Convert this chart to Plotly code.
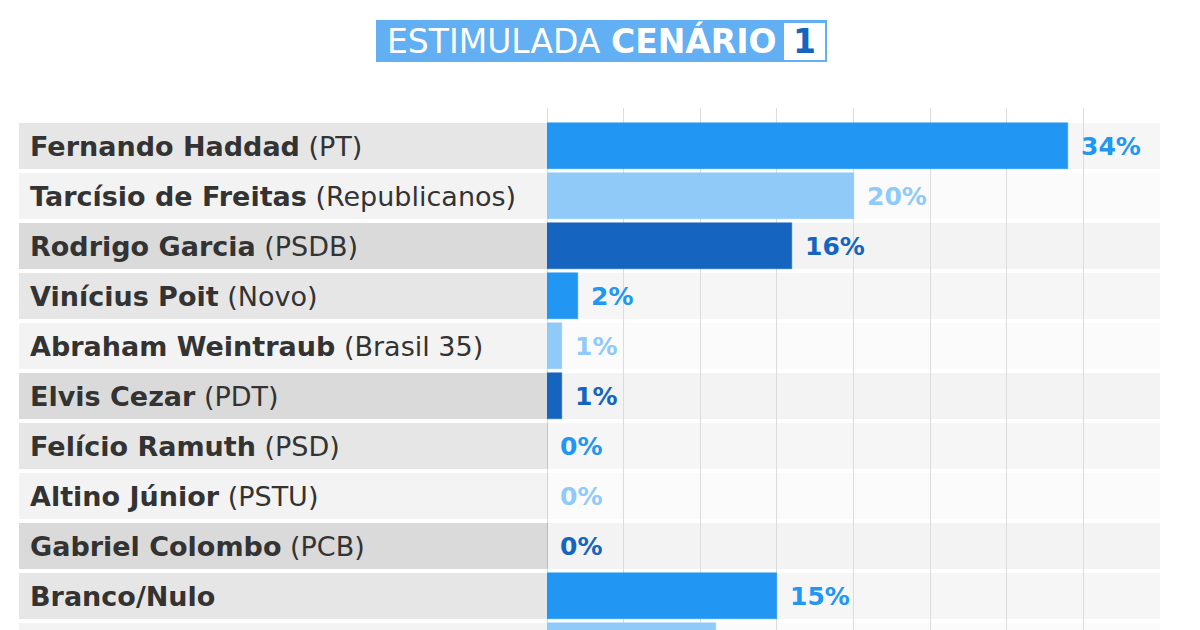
import plotly.graph_objects as go

# ---- data ----
candidates = ["Fernando Haddad", "Tarcísio de Freitas", "Rodrigo Garcia", "Vinícius Poit",
              "Abraham Weintraub", "Elvis Cezar", "Felício Ramuth", "Altino Júnior",
              "Gabriel Colombo", "Branco/Nulo", "Não sabe/Não respondeu"]
parties = ["PT", "Republicanos", "PSDB", "Novo", "Brasil 35", "PDT", "PSD", "PSTU", "PCB", "", ""]
values = [34, 20, 16, 2, 1, 1, 0, 0, 0, 15, 11]
title_light = "ESTIMULADA"
title_bold = "CENÁRIO"
scenario = "1"

# ---- style ----
W, H = 1200, 630
PL, PR, PT = 547, 1160, 108          # plot area pixels
bar_colors = ["#2196f3", "#90caf9", "#1565c0"]
label_bg = ["#e6e6e6", "#f3f3f3", "#dadada"]
band_bg = ["#f6f6f6", "#fbfbfb", "#f3f3f3"]
FONT = "DejaVu Sans"

def px_x(p):  # pixel -> paper x
    return (p - PL) / (PR - PL)

def px_y(p):  # pixel -> paper y
    return (H - p) / (H - PT)

n = len(values)
idx = list(range(n))
cols = [bar_colors[i % 3] for i in idx]

fig = go.Figure()
fig.add_trace(go.Bar(
    x=values, y=idx, orientation="h", width=0.92,
    marker=dict(color=cols, line=dict(color=cols, width=0.5)),
    hoverinfo="skip",
))

shapes = []
annotations = []
for i in idx:
    y0, y1 = i - 0.46, i + 0.46
    shapes.append(dict(type="rect", xref="paper", yref="y", x0=px_x(19), x1=0,
                       y0=y0, y1=y1, fillcolor=label_bg[i % 3], line=dict(width=0), layer="below"))
    shapes.append(dict(type="rect", xref="paper", yref="y", x0=0, x1=1,
                       y0=y0, y1=y1, fillcolor=band_bg[i % 3], line=dict(width=0), layer="below"))
    txt = f"<b>{candidates[i]}</b>" + (f" ({parties[i]})" if parties[i] else "")
    annotations.append(dict(xref="paper", yref="y", x=px_x(28), y=i, xanchor="left",
                            yanchor="middle", text=txt, showarrow=False,
                            font=dict(family=FONT, size=27, color="#333333")))
    annotations.append(dict(xref="x", yref="y", x=values[i], y=i, xanchor="left",
                            yanchor="middle", xshift=11, text=f"<b>{values[i]}%</b>",
                            showarrow=False,
                            font=dict(family=FONT, size=25, color=cols[i])))

# title box
shapes.append(dict(type="rect", xref="paper", yref="paper", x0=px_x(376), x1=px_x(827),
                   y0=px_y(62), y1=px_y(20), fillcolor="#62aff4", line=dict(width=0)))
shapes.append(dict(type="rect", xref="paper", yref="paper", x0=px_x(784), x1=px_x(825),
                   y0=px_y(60), y1=px_y(23), fillcolor="#ffffff", line=dict(width=0)))
annotations.append(dict(xref="paper", yref="paper", x=px_x(385), y=px_y(41), xanchor="left",
                        yanchor="middle", showarrow=False,
                        text=f"{title_light} <b>{title_bold}</b>",
                        font=dict(family=FONT, size=33, color="#ffffff")))
annotations.append(dict(xref="paper", yref="paper", x=px_x(804.5), y=px_y(41), xanchor="center",
                        yanchor="middle", showarrow=False, text=f"<b>{scenario}</b>",
                        font=dict(family=FONT, size=33, color="#1565c0")))

fig.update_layout(
    width=W, height=H, margin=dict(l=PL, r=W - PR, t=PT, b=0, pad=0),
    paper_bgcolor="#ffffff", plot_bgcolor="#ffffff",
    showlegend=False, bargap=0,
    xaxis=dict(range=[0, 40], dtick=5, tick0=0, showticklabels=False, ticks="",
               showgrid=True, gridcolor="#dcdcdc", gridwidth=1,
               zeroline=True, zerolinecolor="#dcdcdc", zerolinewidth=1, fixedrange=True),
    yaxis=dict(range=[9.68, -0.76], showticklabels=False, ticks="", showgrid=False,
               zeroline=False, fixedrange=True),
    shapes=shapes, annotations=annotations,
)

fig.write_html("out.html")
